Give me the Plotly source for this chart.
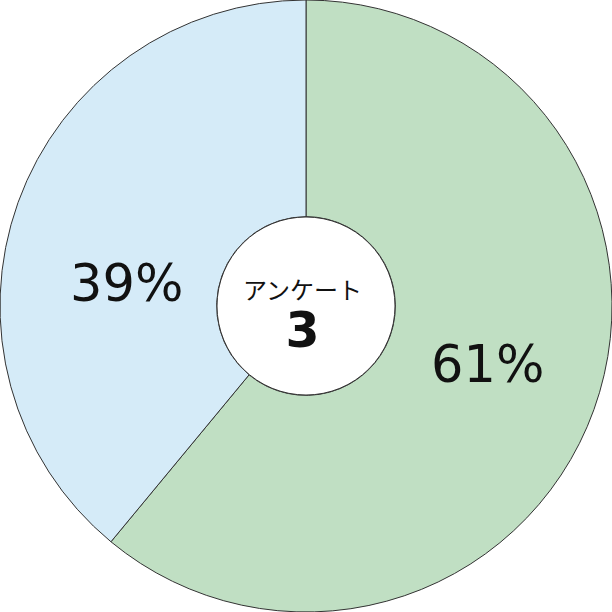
import plotly.graph_objects as go

labels = ["A", "B"]
values = [61, 39]
colors = ["#c0dfc3", "#d5ebf8"]
label_texts = ["61%", "39%"]
label_pos = [(0.797, 0.405), (0.207, 0.537)]
center_title = "アンケート"
center_number = "3"

fig = go.Figure(go.Pie(
    labels=labels, values=values, sort=False, direction="clockwise", rotation=0,
    hole=0.292, textinfo="none", hoverinfo="none",
    marker=dict(colors=colors, line=dict(color="#333333", width=1)),
    domain=dict(x=[0, 1], y=[0, 1]), showlegend=False,
))

for t, (x, y) in zip(label_texts, label_pos):
    fig.add_annotation(x=x, y=y, xref="paper", yref="paper", text=t, showarrow=False,
                       xanchor="center", yanchor="middle",
                       font=dict(family="DejaVu Sans", size=51, color="#111111"))

fig.add_shape(type="circle", xref="paper", yref="paper",
              x0=0.5 - 89/612, x1=0.5 + 89/612, y0=0.5 - 89/612, y1=0.5 + 89/612,
              line=dict(color="#333333", width=1), fillcolor="white")

center_text = (f"<span style='font-family:Noto Sans CJK JP;font-size:24px'>{center_title}</span><br>"
               f"<span style='font-family:DejaVu Sans;font-size:49px'><b>{center_number}</b></span>")
fig.add_annotation(x=0.495, y=1 - 315/612, xref="paper", yref="paper", text=center_text,
                   xanchor="center", yanchor="middle", align="center",
                   showarrow=False, font=dict(family="DejaVu Sans", size=37, color="#111111"))

fig.update_layout(width=612, height=612, margin=dict(l=0, r=0, t=0, b=0),
                  paper_bgcolor="white", plot_bgcolor="white")
fig.write_html("out.html", config={"displayModeBar": False},
               post_script="document.body.style.margin='0';")
